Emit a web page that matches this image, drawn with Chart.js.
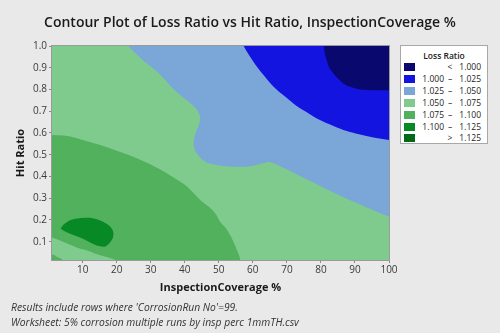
<!DOCTYPE html>
<html><head><meta charset="utf-8">
<script src="https://cdn.jsdelivr.net/npm/chart.js@4/dist/chart.umd.min.js"></script>
<style>
html,body{margin:0;padding:0;}
body{width:500px;height:333px;background:#e9e9e9;position:relative;overflow:hidden;font-family:"Open Sans",sans-serif;}
#c{position:absolute;left:0;top:0;}
#title{position:absolute;left:0;width:500px;top:12px;line-height:20px;text-align:center;font-size:14px;font-weight:600;color:#1a1a1a;white-space:nowrap;}
#legend{position:absolute;left:400px;top:45px;width:86px;height:97px;background:#fff;border:1px solid #a8a8a8;}
#legend .lt{position:absolute;left:0;width:86px;top:4px;text-align:center;font-size:8.5px;font-weight:600;color:#222;}
#legend .sw{position:absolute;left:3px;width:11px;height:8px;}
#legend .t{position:absolute;font-size:8.5px;color:#222;line-height:10px;white-space:nowrap;}
#notes{position:absolute;left:11px;top:300px;font-size:10.3px;font-style:italic;color:#333;line-height:15px;white-space:nowrap;}
</style></head>
<body>
<canvas id="c" width="500" height="333"></canvas>
<div id="title">Contour Plot of Loss Ratio vs Hit Ratio, InspectionCoverage %</div>
<div id="legend"><div class="lt">Loss Ratio</div></div>
<div id="notes">Results include rows where 'CorrosionRun No'=99.<br>Worksheet: 5% corrosion multiple runs by insp perc 1mmTH.csv</div>
<script>
// Axis tick values
const xTickValues = [10, 20, 30, 40, 50, 60, 70, 80, 90, 100];
const yTickValues = [0.1, 0.2, 0.3, 0.4, 0.5, 0.6, 0.7, 0.8, 0.9, 1.0];

// Contour levels (legend)
const levelLow  = ['',      '1.000', '1.025', '1.050', '1.075', '1.100', ''];
const levelSign = ['<',     '\u2013','\u2013','\u2013','\u2013','\u2013','>'];
const levelHigh = ['1.000', '1.025', '1.050', '1.075', '1.100', '1.125', '1.125'];
const levelColors = ['#08086e', '#1414e0', '#7ba6d8', '#7fcb8d', '#52b15c', '#078a25', '#006a1a'];

// Contour region boundaries: [InspectionCoverage %, Hit Ratio]
const baseRegion = [[110,1.2],[-5,1.2],[-5,-0.2],[110,-0.2]]; // 1.050-1.075
const lightBlueRegion = [[106,1.2],[22.5,1.04],[23.5,1.0],[26,0.96],[28.4,0.925],[30.5,0.9],[33.3,0.86],[36.8,0.8],[40.2,0.755],[42.5,0.725],[44.2,0.69],[44.5,0.66],[43.8,0.625],[43,0.59],[42.6,0.552],[42.9,0.525],[43.7,0.503],[46,0.468],[49.5,0.453],[54.5,0.445],[59.2,0.447],[62.5,0.458],[65.1,0.466],[69,0.44],[73.4,0.406],[78,0.37],[83.2,0.33],[88,0.295],[93,0.261],[100,0.215],[106,0.17]];
const blueRegion = [[106,1.2],[56.3,1.03],[57.3,1.0],[59,0.955],[61.2,0.905],[63.5,0.86],[66.1,0.813],[69,0.773],[71.9,0.736],[75,0.703],[78.8,0.667],[82.5,0.64],[86.6,0.614],[90.5,0.597],[94.4,0.583],[100,0.568],[106,0.555]];
const navyRegion = [[106,1.2],[80.8,1.05],[80.9,1.0],[81.1,0.97],[81.7,0.936],[82.5,0.9],[83.7,0.874],[85,0.85],[86.6,0.828],[89,0.81],[91.5,0.8],[95,0.797],[100,0.797],[106,0.797]];
const midGreenRegion = [[30,-0.2],[-5,-0.2],[-5,0.595],[1,0.591],[5.5,0.586],[10,0.568],[15.2,0.545],[20,0.518],[25,0.49],[30,0.455],[34.8,0.414],[38,0.383],[40.2,0.36],[42.5,0.325],[44.6,0.291],[47,0.262],[49,0.23],[50.4,0.192],[51.9,0.165],[53,0.14],[54.3,0.1],[55.5,0.055],[56.3,0.016],[57,-0.2]];
const cornerBandRegion = [[10,-0.2],[-5,-0.2],[-5,0.14],[1,0.12],[5,0.095],[8.9,0.07],[11.3,0.06],[13.8,0.045],[16.5,0.032],[18.7,0.022],[19.5,0.016],[20.5,-0.2]];
const cornerMidRegion = [[2,-0.2],[-5,-0.2],[-5,0.06],[1,0.042],[2.5,0.03],[4,0.016],[5,-0.2]];
const darkGreenBlob = [[3.5,0.161],[4.5,0.18],[6,0.197],[8,0.206],[10.9,0.21],[13,0.208],[14.8,0.2],[16.8,0.185],[18.2,0.168],[19,0.145],[18.9,0.12],[18.2,0.1],[17.2,0.083],[16.2,0.077],[14.8,0.08],[13.8,0.085],[11.8,0.1],[9.9,0.115],[7.5,0.13],[5,0.146],[3.5,0.161]];

// Layers bottom -> top with their level colour index
const layers = [
  [baseRegion, 3], [lightBlueRegion, 2], [blueRegion, 1], [navyRegion, 0],
  [midGreenRegion, 4], [cornerBandRegion, 3], [cornerMidRegion, 4], [darkGreenBlob, 5]
];

// Legend (HTML)
const lg = document.getElementById('legend');
for (let i = 0; i < levelColors.length; i++) {
  const top = 16 + i * 11.9;
  const sw = document.createElement('div'); sw.className = 'sw';
  sw.style.top = (top + 1) + 'px'; sw.style.background = levelColors[i]; lg.appendChild(sw);
  const a = document.createElement('div'); a.className = 't';
  a.style.right = (86 - 43) + 'px'; a.style.top = top + 'px'; a.textContent = levelLow[i]; lg.appendChild(a);
  const b = document.createElement('div'); b.className = 't';
  b.style.left = '44px'; b.style.width = '10px'; b.style.textAlign = 'center'; b.style.top = top + 'px'; b.textContent = levelSign[i]; lg.appendChild(b);
  const c = document.createElement('div'); c.className = 't';
  c.style.right = '6px'; c.style.top = top + 'px'; c.textContent = levelHigh[i]; lg.appendChild(c);
}

Chart.defaults.font.family = '"Open Sans", sans-serif';

const frame = {
  id: 'frame',
  afterDatasetsDraw(chart) {
    const {ctx, chartArea: a} = chart;
    ctx.save();
    ctx.strokeStyle = '#9a9a9a'; ctx.lineWidth = 1;
    ctx.strokeRect(Math.round(a.left) - 0.5, Math.round(a.top) - 0.5, Math.round(a.right - a.left) + 1, Math.round(a.bottom - a.top) + 1);
    ctx.restore();
  }
};

new Chart(document.getElementById('c'), {
  type: 'scatter',
  data: {
    datasets: layers.map(([pts, li], i) => ({
      data: pts.map(p => ({x: p[0], y: p[1]})),
      showLine: true,
      fill: 'shape',
      backgroundColor: levelColors[li],
      borderColor: 'rgba(0,0,0,0)',
      borderWidth: 0,
      pointRadius: 0,
      pointHoverRadius: 0,
      tension: 0.35,
      order: layers.length - i
    }))
  },
  options: {
    responsive: false,
    animation: false,
    devicePixelRatio: 1,
    layout: {padding: {left: 0, right: 111, top: 46, bottom: 33}},
    elements: {line: {capBezierPoints: false}},
    plugins: {legend: {display: false}, tooltip: {enabled: false}, title: {display: false}},
    scales: {
      x: {
        type: 'linear', min: 1, max: 100,
        afterBuildTicks: s => { s.ticks = xTickValues.map(v => ({value: v})); },
        afterFit: s => { s.height = 40; },
        grid: {drawOnChartArea: false, drawTicks: true, tickLength: 3, color: '#8a8a8a'},
        border: {display: false},
        ticks: {font: {size: 10}, color: '#3a3a3a', padding: 1, maxRotation: 0, autoSkip: false, callback: v => String(v)},
        title: {display: true, text: 'InspectionCoverage %', font: {size: 11, weight: 'bold'}, color: '#1a1a1a', padding: {top: 0, bottom: 6}}
      },
      y: {
        type: 'linear', min: 0.016, max: 1.0,
        afterBuildTicks: s => { s.ticks = yTickValues.map(v => ({value: v})); },
        afterFit: s => { s.width = 52; },
        grid: {drawOnChartArea: false, drawTicks: true, tickLength: 3, color: '#8a8a8a'},
        border: {display: false},
        ticks: {font: {size: 10}, color: '#3a3a3a', padding: 2, autoSkip: false, callback: v => v.toFixed(1)},
        title: {display: true, text: 'Hit Ratio', font: {size: 11, weight: 'bold'}, color: '#1a1a1a', padding: {top: 14, bottom: 0}}
      }
    }
  },
  plugins: [frame]
});
</script>
</body></html>
